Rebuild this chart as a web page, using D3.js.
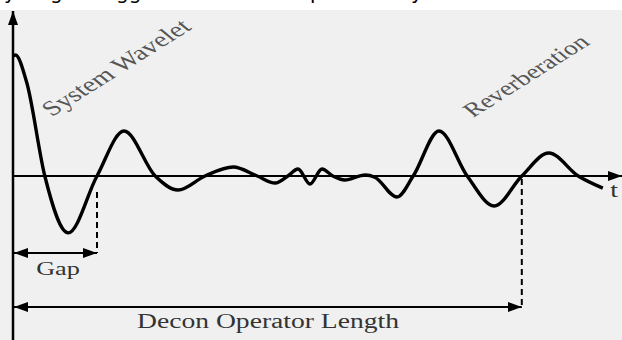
<!DOCTYPE html>
<html>
<head>
<meta charset="utf-8">
<script src="https://cdn.jsdelivr.net/npm/d3@7"></script>
<style>
  body { margin: 0; background: #fff; }
  svg { display: block; }
</style>
</head>
<body>
<svg width="622" height="340"></svg>
<script>
// wavelet trace: time (0-100) and amplitude (-1..1)
var waveT = [0, 0.4, 2.3, 5.3, 9.2, 14, 18.5, 23.7, 27.5, 32, 36.7, 40.7, 43.7, 45.8, 47.5, 49.5, 51.5, 53.3, 55.3, 58.7, 60.3, 64, 66.7, 71, 75.7, 80.2, 84.8, 89.3, 94.2, 98.3];
var waveA = [0.99, 1.0, 0.77, 0.0, -0.47, 0.0, 0.372, 0.0, -0.116, 0.0, 0.074, 0.0, -0.058, 0.0, 0.058, -0.066, 0.058, 0.0, -0.033, 0.008, -0.01, -0.174, 0.0, 0.372, 0.0, -0.248, 0.0, 0.19, 0.0, -0.1];

var gapEnd = 14;        // gap ends at first upward zero crossing
var operatorEnd = 84.8; // operator length end
var labels = ["System Wavelet", "Reverberation"];
var bottomLabels = ["Gap", "Decon Operator Length"];
var timeLabel = "t";

var svg = d3.select("svg");

// page background: white strip on top, grey figure below
svg.append("rect").attr("width", 622).attr("height", 340).attr("fill", "#fff");
svg.append("rect").attr("y", 10).attr("width", 622).attr("height", 330).attr("fill", "#f0f0f0");

// cut-off descenders of the line of text above the figure
svg.append("g")
    .attr("font-family", "DejaVu Sans")
    .attr("font-size", 20)
    .attr("fill", "#000")
    .selectAll("text")
    .data([["y", 4], ["g", 50], ["gg", 116], ["p", 310], ["y", 411]])
    .enter()
    .append("text")
    .attr("x", function (d) { return d[1]; })
    .attr("y", -1)
    .text(function (d) { return d[0]; });

var x = d3.scaleLinear().domain([0, 100]).range([13, 613]);
var y = d3.scaleLinear().domain([-1, 1]).range([297, 55]);

var defs = svg.append("defs");
defs.append("marker")
    .attr("id", "head")
    .attr("viewBox", "0 0 14 10")
    .attr("refX", 14).attr("refY", 5)
    .attr("markerWidth", 14).attr("markerHeight", 10)
    .attr("markerUnits", "userSpaceOnUse")
    .attr("orient", "auto-start-reverse")
    .append("path")
    .attr("d", "M0,0 L14,5 L0,10 Z")
    .attr("fill", "#000");

// y axis
svg.append("line")
    .attr("x1", x(0)).attr("x2", x(0))
    .attr("y1", 340).attr("y2", 11)
    .attr("stroke", "#000").attr("stroke-width", 2.5)
    .attr("marker-end", "url(#head)");

// time axis
svg.append("line")
    .attr("x1", x(0)).attr("x2", 622)
    .attr("y1", y(0)).attr("y2", y(0))
    .attr("stroke", "#000").attr("stroke-width", 2)
    .attr("marker-end", "url(#head)");

// wavelet
var pts = waveT.map(function (t, i) { return [t, waveA[i]]; });
svg.append("path")
    .datum(pts)
    .attr("fill", "none")
    .attr("stroke", "#000")
    .attr("stroke-width", 3.4)
    .attr("stroke-linejoin", "round")
    .attr("d", d3.line()
        .x(function (d) { return x(d[0]); })
        .y(function (d) { return y(d[1]); })
        .curve(d3.curveMonotoneX));

// dashed markers
svg.append("line")
    .attr("x1", x(gapEnd)).attr("x2", x(gapEnd))
    .attr("y1", 192).attr("y2", 253)
    .attr("stroke", "#000").attr("stroke-width", 2).attr("stroke-dasharray", "6,4");
svg.append("line")
    .attr("x1", x(operatorEnd)).attr("x2", x(operatorEnd))
    .attr("y1", 179).attr("y2", 307)
    .attr("stroke", "#000").attr("stroke-width", 2).attr("stroke-dasharray", "6,4");

// double arrows
[[gapEnd, 253], [operatorEnd, 307]].forEach(function (d) {
    svg.append("line")
        .attr("x1", x(0) + 1).attr("x2", x(d[0]))
        .attr("y1", d[1]).attr("y2", d[1])
        .attr("stroke", "#000").attr("stroke-width", 2)
        .attr("marker-start", "url(#head)")
        .attr("marker-end", "url(#head)");
});

// the figure is stretched horizontally, text included
var serif = "Liberation Serif";
var stretch = 1.38;

function label(str, px, py, size, color, angle) {
    svg.append("text")
        .attr("transform", "translate(" + px + "," + py + ") scale(" + stretch + ",1)" + (angle ? " rotate(" + angle + ")" : ""))
        .attr("text-anchor", angle ? "start" : "middle")
        .attr("font-family", serif).attr("font-size", size)
        .attr("fill", color)
        .text(str);
}

label(bottomLabels[0], 58, 275, 19, "#333");
label(bottomLabels[1], 268, 328, 20, "#333");
label(timeLabel, 614, 197, 20, "#333");
label(labels[0], 52, 117, 21, "#555", -41);
label(labels[1], 473, 118, 20, "#555", -41);
</script>
</body>
</html>
